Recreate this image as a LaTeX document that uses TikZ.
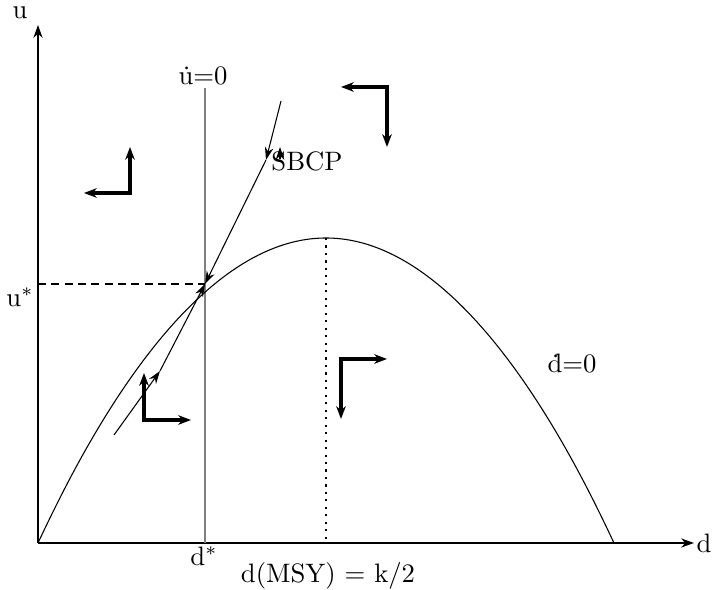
\documentclass[tikz,border=0pt]{standalone}
\usepackage{amsmath}
\usepackage{tikz}
\usetikzlibrary{arrows.meta}

\begin{document}
\begin{tikzpicture}[x=0.375pt,y=-0.375pt,
  axis/.style={line width=0.8pt,-{Stealth[length=4.8pt,width=3.4pt]}},
  flow/.style={line width=1.3pt,{Stealth[length=4.8pt,width=3.6pt]}-{Stealth[length=4.8pt,width=3.6pt]}},
  saddle/.style={line width=0.4pt,-{Stealth[length=4.8pt,width=3.2pt]}}]
  \useasboundingbox (0,0) rectangle (714,590);
  \coordinate (O) at (38,543);
  \coordinate (xend) at (694,543);
  \coordinate (yend) at (38,25);
  \coordinate (top) at (326,238);
  \coordinate (dend) at (614,543);
  \coordinate (eq) at (205,284);
  \draw[axis] (O) -- (xend);
  \draw[axis] (O) -- (yend);
  \node (dlab) at (704,543) {d};
  \node (ulab) at (20,13) {u};
  % isoclines
  \draw[black!50,line width=0.5pt] (205,88) -- (205,543);
  \draw[line width=0.4pt] (O) parabola bend (top) (dend);
  \draw[line width=0.4pt,dash pattern=on 3pt off 2pt] (38,284) -- (eq);
  \draw[line width=1.1pt,dash pattern=on 0.8pt off 2pt] (top) -- (326,543);
  \node (udot) at (203,76) {\.u=0};
  \node (ddot) at (572,364) {\.d=0};
  \node (ustar) at (20,297) {u$^*$};
  \node (dstar) at (204,556) {d$^*$};
  \node (msy) at (328,576) {d(MSY) = k/2};
  % saddle path
  \coordinate (up1) at (281,101);
  \coordinate (up2) at (266,160);
  \coordinate (lo1) at (114,435);
  \coordinate (lo2) at (160,371);
  \draw[saddle] (up1) -- (up2);
  \draw[saddle] (up2) -- (eq);
  \draw[saddle] (lo1) -- (lo2);
  \draw[saddle] (lo2) -- (eq);
  \draw[saddle] (280,159) -- (280,147);
  \node (sbcp) at (307,161) {SBCP};
  % directions of motion
  \foreach \p/\q/\r in {{(84,193)}/{(130,193)}/{(130,147)},{(341,87)}/{(387,87)}/{(387,147)},
    {(144,373)}/{(144,420)}/{(191,420)},{(387,359)}/{(341,359)}/{(341,419)}}
    {\draw[flow] \p -- \q -- \r;}
\end{tikzpicture}
\end{document}
